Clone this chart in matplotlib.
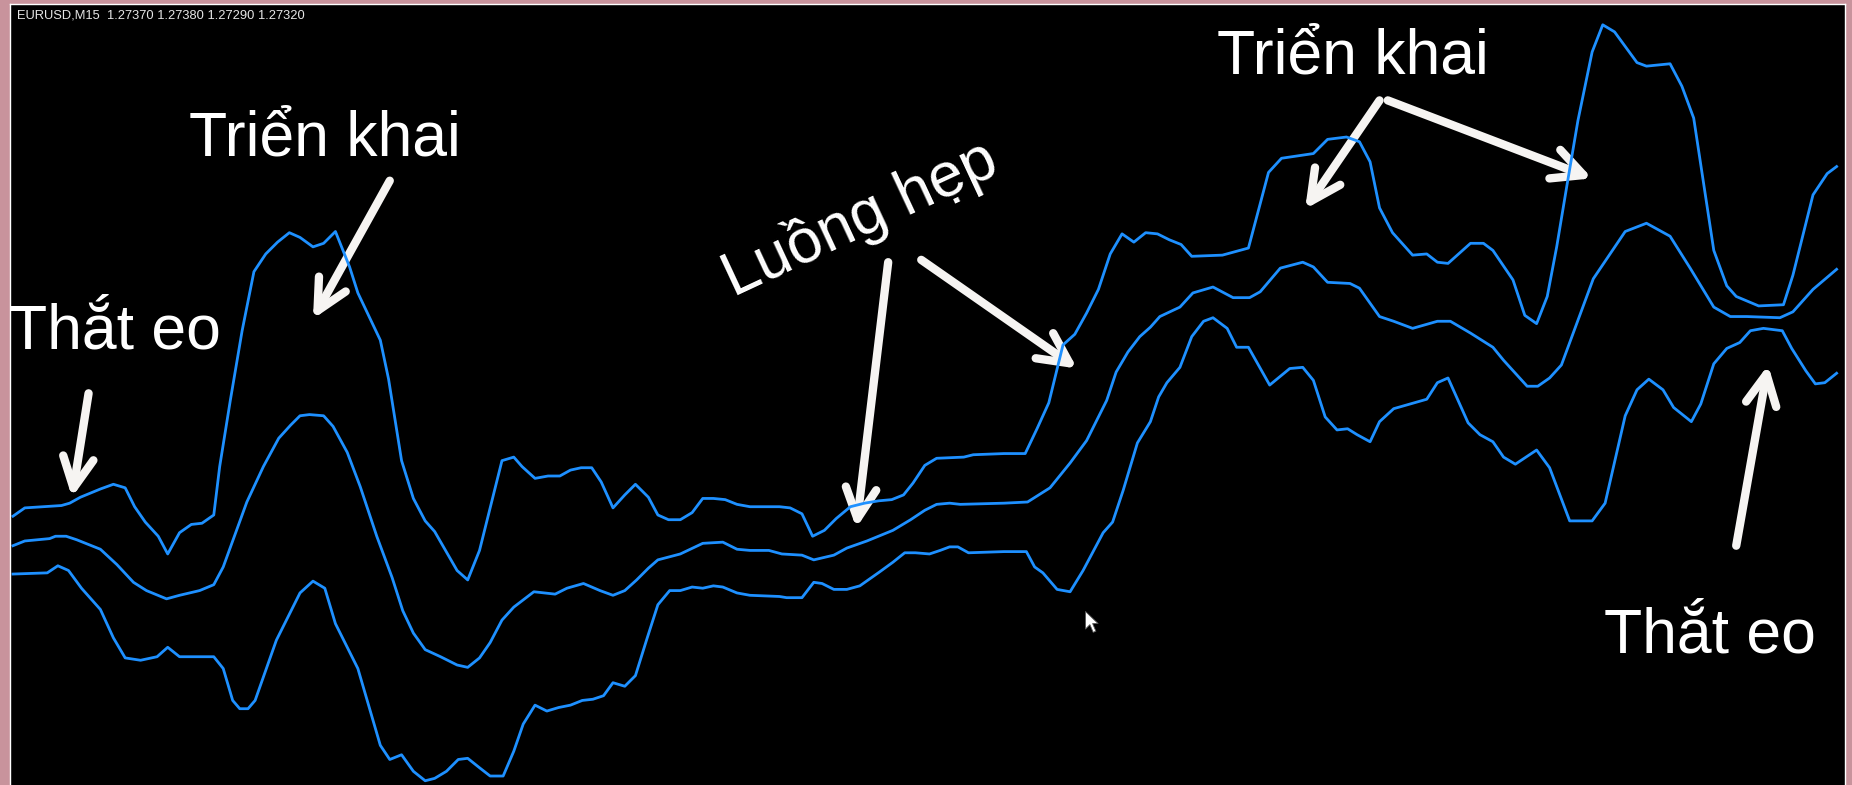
#%%
# Bollinger Bands EURUSD M15 con anotaciones
import matplotlib
matplotlib.use("Agg")
import matplotlib.pyplot as plt
from matplotlib.patches import FancyArrowPatch
from matplotlib.path import Path

plt.rcParams['font.family'] = ['Liberation Sans', 'DejaVu Sans']

#%%
# Datos (x = posicion en pantalla, y = fila en pantalla)
t_upper = [11, 21, 52, 59, 68, 85, 96, 106, 114, 123, 134, 142, 152, 162, 171, 181, 186, 195,
           205, 215, 225, 235, 245, 254, 265, 274, 284, 296, 303, 322, 329, 340, 350, 360, 368,
           387, 396, 406, 425, 435, 442, 453, 464, 474, 483, 492, 501, 509, 519, 529, 538, 549,
           557, 566, 576, 586, 595, 604, 614, 624, 635, 660, 669, 679, 688, 698, 708, 720, 732,
           744, 755, 765, 773, 783, 793, 816, 824, 850, 868, 878, 888, 900, 910, 920, 930, 940,
           950, 960, 970, 980, 990, 1000, 1009, 1035, 1057, 1074, 1085, 1112, 1124, 1140, 1151,
           1160, 1168, 1179, 1196, 1208, 1217, 1226, 1245, 1256, 1264, 1281, 1291, 1301, 1310,
           1318, 1327, 1336, 1348, 1357, 1367, 1386, 1394, 1414, 1424, 1434, 1451, 1462, 1470,
           1489, 1510, 1518, 1535, 1547, 1555]
upper = [437, 430, 428, 426, 421, 414, 410, 413, 429, 442, 454, 469, 451, 444, 443, 436, 395, 339,
         280, 230, 215, 205, 197, 201, 209, 206, 196, 226, 248, 288, 321, 390, 422, 441, 450,
         483, 491, 466, 390, 387, 395, 405, 403, 403, 398, 396, 396, 408, 430, 419, 410, 421,
         436, 440, 440, 434, 422, 422, 423, 427, 429, 429, 430, 435, 454, 449, 439, 429, 426,
         424, 423, 419, 409, 394, 388, 387, 385, 384, 384, 363, 341, 292, 283, 265, 245, 215,
         198, 205, 197, 198, 203, 207, 217, 216, 210, 146, 134, 130, 118, 116, 120,
         137, 176, 197, 216, 215, 222, 223, 206, 206, 212, 237, 267, 274, 251,
         209, 155, 102, 44, 21, 27, 53, 56, 54, 73, 100, 212, 242, 251,
         259, 258, 233, 165, 147, 141]

t_middle = [11, 21, 42, 47, 56, 65, 85, 99, 113, 124, 141, 152, 169, 181, 189, 209, 223, 236,
            246, 254, 262, 274, 282, 294, 305, 319, 332, 341, 350, 360, 373, 387, 396, 406, 415,
            425, 435, 452, 470, 480, 494, 508, 519, 529, 539, 549, 557, 576, 595, 612, 624, 635,
            651, 662, 679, 689, 706, 717, 734, 756, 771, 783, 793, 804, 813, 850, 870, 889, 906,
            920, 937, 945, 955, 965, 974, 982, 999, 1010, 1027, 1044, 1058, 1067, 1084, 1103,
            1112, 1124, 1143, 1151, 1168, 1180, 1196, 1217, 1228, 1245, 1264, 1273, 1293, 1302,
            1312, 1322, 1349, 1376, 1394, 1414, 1431, 1451, 1465, 1479, 1507, 1518, 1535, 1555]
middle = [462, 458, 456, 454, 454, 457, 465, 478, 493, 500, 507, 504, 500, 495, 480, 425, 395, 371,
          360, 352, 351, 352, 361, 383, 412, 454, 489, 517, 536, 550, 556, 563, 565, 557, 544,
          525, 514, 501, 503, 498, 494, 500, 504, 500, 491, 481, 474, 469, 460, 459, 465, 466,
          466, 469, 470, 474, 470, 464, 458, 449, 440, 432, 427, 426, 427, 426, 425, 413, 392,
          373, 339, 315, 298, 285, 277, 268, 260, 248, 243, 252, 252, 247, 227, 222,
          226, 239, 240, 244, 268, 272, 278, 272, 272, 282, 294, 305, 327, 327,
          320, 309, 236, 196, 189, 200, 227, 260, 268, 268, 269, 264, 245, 228]

t_lower = [11, 40, 49, 58, 69, 85, 96, 106, 119, 133, 142, 152, 181, 189, 197, 203, 210, 216,
           234, 254, 265, 275, 284, 303, 322, 330, 340, 350, 360, 368, 378, 388, 396, 406, 415,
           426, 435, 443, 453, 463, 473, 483, 493, 502, 511, 519, 529, 538, 548, 557, 567, 576,
           586, 595, 604, 612, 624, 635, 660, 666, 679, 689, 696, 706, 717, 728, 745, 756, 766,
           775, 787, 796, 804, 811, 820, 850, 869, 876, 883, 895, 906, 917, 934, 942, 951, 963,
           974, 981, 988, 999, 1009, 1019, 1027, 1039, 1047, 1057, 1075, 1092, 1103, 1112, 1122,
           1132, 1141, 1149, 1160, 1168, 1180, 1208, 1217, 1226, 1243, 1253, 1264, 1273, 1283,
           1301, 1312, 1329, 1348, 1359, 1376, 1386, 1396, 1408, 1417, 1432, 1440, 1451, 1462,
           1473, 1482, 1493, 1509, 1517, 1529, 1537, 1545, 1555]
lower = [486, 485, 479, 483, 498, 516, 540, 557, 559, 556, 548, 556, 556, 566, 593, 600, 600, 593,
         542, 502, 492, 498, 528, 566, 631, 643, 639, 653, 661, 659, 653, 643, 642, 650, 657,
         657, 636, 613, 597, 602, 599, 597, 593, 592, 589, 578, 581, 572, 540, 512, 500, 500,
         497, 498, 496, 497, 502, 504, 505, 506, 506, 493, 494, 499, 499, 496, 484, 476, 468,
         468, 469, 466, 463, 463, 468, 467, 467, 480, 485, 499, 501, 483, 451, 442, 415, 375,
         357, 336, 324, 311, 285, 272, 269, 278, 294, 294, 326, 312, 311, 322, 353,
         364, 363, 368, 374, 357, 346, 338, 324, 320, 358, 368, 374, 387, 393,
         381, 396, 441, 441, 426, 352, 330, 321, 330, 345, 357, 342, 308, 295,
         290, 280, 278, 280, 295, 314, 325, 324, 316]

#%%
# Etiquetas y flechas (posiciones en pantalla)
encabezado = "EURUSD,M15  1.27370 1.27380 1.27290 1.27320"
etiquetas = ["Thắt eo", "Triển khai", "Luồng hẹp", "Triển khai", "Thắt eo"]
pos_etiquetas = [(8, 295), (160, 132), (728, 185), (1030, 62), (1358, 552)]
rot_etiquetas = [0, 0, 25, 0, 0]
flechas = [((75, 333), (61, 421)),
           ((330, 153), (265, 270)),
           ((752, 222), (725, 447)),
           ((780, 220), (912, 312)),
           ((1168, 85), (1105, 177)),
           ((1175, 85), (1348, 151)),
           ((1470, 462), (1497, 309))]
cursor_pos = (919, 517)

#%%
fig = plt.figure(figsize=(18.52, 7.85), dpi=100, facecolor="#c8939c")
ax = fig.add_axes([10 / 1852, 0, 1835 / 1852, 781 / 785])
ax.set_facecolor("black")
ax.set_xlim(8.47, 1562.1)
ax.set_ylim(664.6, 3.39)
ax.set_xticks([])
ax.set_yticks([])
for lado in ["left", "top", "right"]:
    ax.spines[lado].set_color("white")
    ax.spines[lado].set_linewidth(1.0)
ax.spines["bottom"].set_visible(False)

azul = "#1e90ff"
ax.plot(t_upper, upper, color=azul, lw=2.0)
ax.plot(t_middle, middle, color=azul, lw=2.0)
ax.plot(t_lower, lower, color=azul, lw=2.0)

#%%
# Textos
for txt, (x, y), rot in zip(etiquetas, pos_etiquetas, rot_etiquetas):
    if rot == 0:
        ax.text(x, y, txt, color="white", fontsize=45, ha="left", va="baseline")
    else:
        ax.text(x, y, txt, color="white", fontsize=45, ha="center", va="center",
                rotation=rot, rotation_mode="anchor")

for (x0, y0), (x1, y1) in flechas:
    fl = FancyArrowPatch((x0, y0), (x1, y1),
                         arrowstyle="->,head_length=22,head_width=11",
                         mutation_scale=1, color="#f6f4f2", lw=6,
                         shrinkA=0, shrinkB=0, capstyle="round", joinstyle="round")
    ax.add_patch(fl)

fig.text(17 / 1852, 1 - 15 / 785, encabezado, color="#e6e6e6", fontsize=9.3,
         ha="left", va="center")

# Cursor del raton
cursor = Path([(0, 0), (0, -16), (4, -12), (7, -19), (9.5, -18), (6.5, -11), (11.5, -11), (0, 0)],
              [Path.MOVETO] + [Path.LINETO] * 6 + [Path.CLOSEPOLY])
ax.plot([cursor_pos[0]], [cursor_pos[1]], marker=cursor, ms=30, color="white",
        markeredgecolor="#555555", markeredgewidth=0.6)

fig.savefig("out.png", dpi=100, facecolor=fig.get_facecolor())
